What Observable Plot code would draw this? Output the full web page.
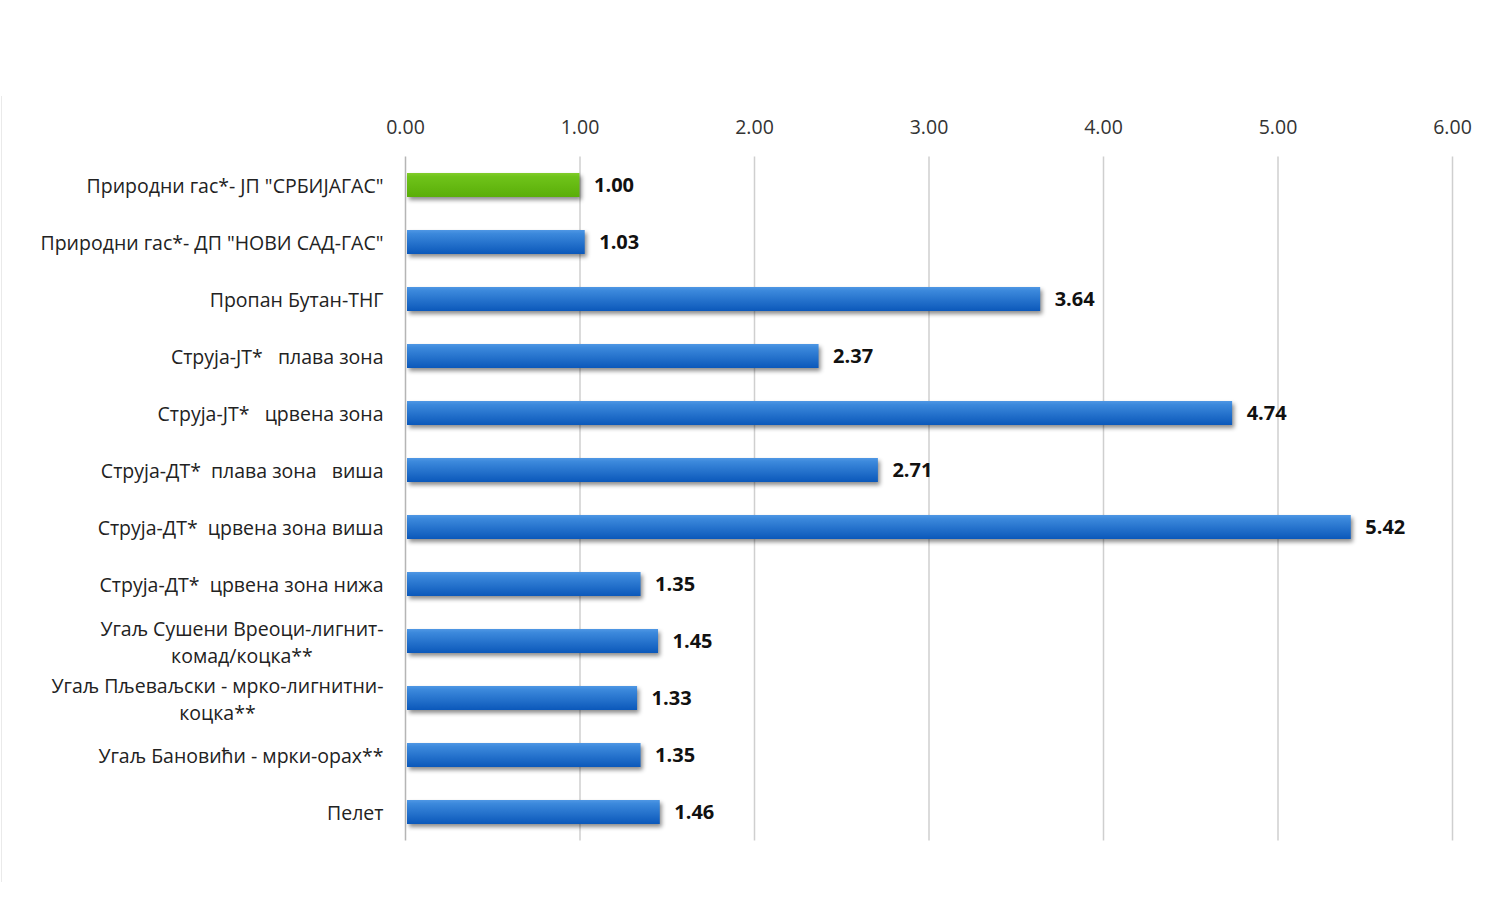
<!DOCTYPE html>
<html>
<head>
<meta charset="utf-8">
<script src="https://cdn.jsdelivr.net/npm/d3@7"></script>
<script src="https://cdn.jsdelivr.net/npm/@observablehq/plot@0.6"></script>
<style>
  html, body { margin: 0; padding: 0; background: #fff; }
  #wrap { position: relative; width: 1500px; height: 897px; }
  #edge { position: absolute; left: 1px; top: 96px; width: 0; height: 786px; border-left: 1px solid #eaeaea; }
  svg text { font-family: "Open Sans", sans-serif; }
</style>
</head>
<body>
<div id="wrap"><div id="edge"></div></div>
<script>
const categories = [
  'Природни гас*- ЈП "СРБИЈАГАС"',
  'Природни гас*- ДП "НОВИ САД-ГАС"',
  'Пропан Бутан-ТНГ',
  'Струја-ЈТ*   плава зона',
  'Струја-ЈТ*   црвена зона',
  'Струја-ДТ*  плава зона   виша',
  'Струја-ДТ*  црвена зона виша',
  'Струја-ДТ*  црвена зона нижа',
  'Угаљ Сушени Вреоци-лигнит-\nкомад/коцка**',
  'Угаљ Пљеваљски - мрко-лигнитни-\nкоцка**',
  'Угаљ Бановићи - мрки-орах**',
  'Пелет'
];
const values = [1.00, 1.03, 3.64, 2.37, 4.74, 2.71, 5.42, 1.35, 1.45, 1.33, 1.35, 1.46];
const highlight = [true, false, false, false, false, false, false, false, false, false, false, false];
const xTicks = [0, 1, 2, 3, 4, 5, 6];

const data = categories.map((c, i) => ({category: c, value: values[i], hi: highlight[i]}));

const chart = Plot.plot({
  width: 1500,
  height: 897,
  marginLeft: 405,
  marginRight: 48,
  marginTop: 156.5,
  marginBottom: 56.5,
  style: {fontFamily: '"Open Sans", sans-serif', background: "#fff"},
  x: {domain: [0, 6]},
  y: {domain: categories, paddingInner: 0.58, paddingOuter: 0.29, label: null},
  marks: [
    Plot.gridX(xTicks.filter(d => d > 0), {stroke: "#cfcfcf", strokeOpacity: 1, strokeWidth: 1.5}),
    Plot.ruleX([0], {stroke: "#b5b5b5", strokeWidth: 1.5}),
    Plot.axisX(xTicks, {anchor: "top", tickSize: 0, tickPadding: 23, tickFormat: d3.format(".2f"), fontSize: 19.5, fill: "#333", label: null}),
    Plot.axisY({tickSize: 0, tickPadding: 22, fontSize: 19.5, fill: "#222", lineHeight: 1.4, dy: -1, label: null}),
    Plot.barX(data, {x: "value", y: "category", fill: d => d.hi ? "url(#gradGreen)" : "url(#gradBlue)", insetLeft: 2}),
    Plot.text(data, {x: "value", y: "category", text: d => d3.format(".2f")(d.value), dx: 14, textAnchor: "start",
      fontSize: 20, fontWeight: "bold", fill: "#111"})
  ]
});

// gradients
const ns = "http://www.w3.org/2000/svg";
const defs = document.createElementNS(ns, "defs");
function grad(id, stops) {
  const g = document.createElementNS(ns, "linearGradient");
  g.setAttribute("id", id);
  g.setAttribute("x1", "0"); g.setAttribute("y1", "0"); g.setAttribute("x2", "0"); g.setAttribute("y2", "1");
  stops.forEach(([o, c]) => {
    const s = document.createElementNS(ns, "stop");
    s.setAttribute("offset", o); s.setAttribute("stop-color", c);
    g.appendChild(s);
  });
  defs.appendChild(g);
}
grad("gradBlue", [[0, "#4f97e4"], [0.15, "#3c89dc"], [1, "#0b58ba"]]);
grad("gradGreen", [[0, "#82cc2a"], [0.15, "#6fc31a"], [1, "#5aae08"]]);
chart.insertBefore(defs, chart.firstChild);

document.getElementById("wrap").appendChild(chart);

// shadow on bars
const barG = chart.querySelector('g[aria-label="bar"]');
if (barG) barG.style.filter = "drop-shadow(2px 3px 2px rgba(0,0,0,0.45))";

// center continuation lines of multi-line y labels under the first line
const yAxis = chart.querySelector('g[aria-label="y-axis tick label"]');
if (yAxis) {
  yAxis.querySelectorAll("text").forEach(t => {
    const spans = t.querySelectorAll("tspan");
    if (spans.length > 1) {
      const w = spans[0].getComputedTextLength();
      const sx = parseFloat(spans[0].getAttribute("x") || 0);
      spans.forEach(s => {
        s.setAttribute("x", sx - w / 2);
        s.setAttribute("text-anchor", "middle");
      });
      t.setAttribute("text-anchor", "middle");
    }
  });
}
</script>
</body>
</html>
